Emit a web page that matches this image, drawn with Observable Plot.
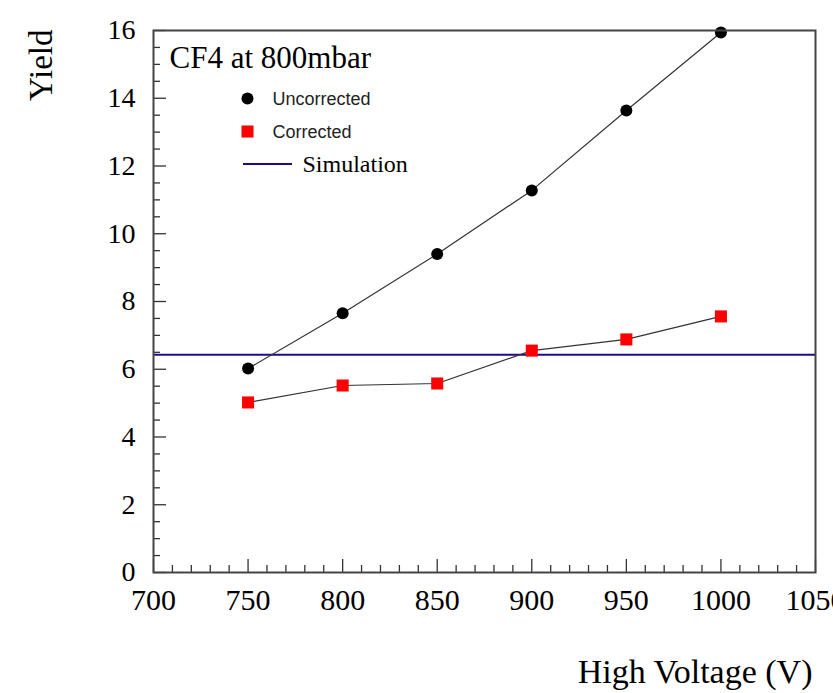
<!DOCTYPE html>
<html><head><meta charset="utf-8">
<script src="https://cdn.jsdelivr.net/npm/d3@7"></script>
<script src="https://cdn.jsdelivr.net/npm/@observablehq/plot@0.6"></script>
<style>
body{margin:0;background:#fff}
#chart svg{overflow:hidden}
</style>
</head><body><div id="chart"></div>
<script>
// ---- data ----
const voltages = [750, 800, 850, 900, 950, 1000];
const uncorrected = [6.02, 7.65, 9.40, 11.28, 13.64, 15.94];
const corrected = [5.02, 5.52, 5.58, 6.55, 6.88, 7.56];
const simulationYield = 6.43;
const xTicks = [700, 750, 800, 850, 900, 950, 1000, 1050];
const yTicks = [0, 2, 4, 6, 8, 10, 12, 14, 16];
const xMinorTicks = d3.range(700, 1051, 10).filter(v => v % 50 !== 0);
const yMinorTicks = d3.range(0, 16.01, 0.5).filter(v => v % 2 !== 0);
const seriesNames = ["Uncorrected", "Corrected", "Simulation"];
const title = "CF4 at 800mbar";
const xLabel = "High Voltage (V)";
const yLabel = "Yield";

const uncData = voltages.map((v, i) => ({v, y: uncorrected[i]}));
const corData = voltages.map((v, i) => ({v, y: corrected[i]}));

const W = 833, H = 693, mL = 153, mR = 18, mT = 30, mB = 121;
const fw = W - mL - mR, fh = H - mT - mB;
const serif = "Liberation Serif";
const sans = "Liberation Sans";
const simColor = "#200a8c";

const legendLine = (index, scales, values, dims) => {
  const l = d3.create("svg:line")
    .attr("x1", dims.marginLeft + 90).attr("x2", dims.marginLeft + 139)
    .attr("y1", dims.marginTop + 134).attr("y2", dims.marginTop + 134)
    .attr("stroke", simColor).attr("stroke-width", 2);
  return l.node();
};

const chart = Plot.plot({
  width: W, height: H,
  marginLeft: mL, marginRight: mR, marginTop: mT, marginBottom: mB,
  x: {domain: [700, 1050], axis: null},
  y: {domain: [0, 16], axis: null},
  style: {fontFamily: serif, background: "#fff"},
  marks: [
    // ticks
    Plot.ruleX(xTicks, {stroke: "#333", strokeWidth: 1.3, insetTop: fh - 13}),
    Plot.ruleX(xMinorTicks, {stroke: "#333", strokeWidth: 1.3, insetTop: fh - 7}),
    Plot.ruleY(yTicks, {stroke: "#333", strokeWidth: 1.3, insetRight: fw - 13}),
    Plot.ruleY(yMinorTicks, {stroke: "#333", strokeWidth: 1.3, insetRight: fw - 7}),
    Plot.text(xTicks, {x: d => d, text: d => String(d), frameAnchor: "bottom", lineAnchor: "top", dy: 16, fontSize: 30, fontFamily: serif, fill: "#000"}),
    Plot.text(yTicks, {y: d => d, text: d => String(d), frameAnchor: "left", textAnchor: "end", lineAnchor: "middle", dx: -18, fontSize: 28, fontFamily: serif, fill: "#000"}),
    // simulation
    Plot.ruleY([simulationYield], {stroke: simColor, strokeWidth: 2}),
    // series
    Plot.line(uncData, {x: "v", y: "y", stroke: "#333", strokeWidth: 1.2}),
    Plot.line(corData, {x: "v", y: "y", stroke: "#333", strokeWidth: 1.2}),
    Plot.dot(uncData, {x: "v", y: "y", r: 6, fill: "#000"}),
    Plot.dot(corData, {x: "v", y: "y", r: 6.8, symbol: "square", fill: "#ff0000"}),
    Plot.frame({stroke: "#444", strokeWidth: 2}),
    // labels
    Plot.text([yLabel], {frameAnchor: "top-left", text: d => d, rotate: -90, textAnchor: "end", lineAnchor: "middle", dx: -112, dy: -1, fontSize: 33, fontFamily: serif, fill: "#000"}),
    Plot.text([xLabel], {frameAnchor: "bottom-right", text: d => d, textAnchor: "end", lineAnchor: "middle", dx: -3, dy: 100, fontSize: 34, fontFamily: serif, fill: "#000"}),
    Plot.text([title], {frameAnchor: "top-left", text: d => d, textAnchor: "start", lineAnchor: "middle", dx: 16, dy: 28, fontSize: 31, fontFamily: serif, fill: "#000"}),
    // legend
    Plot.dot([0], {frameAnchor: "top-left", dx: 94, dy: 68, r: 6, fill: "#000"}),
    Plot.text([seriesNames[0]], {frameAnchor: "top-left", text: d => d, textAnchor: "start", lineAnchor: "middle", dx: 119, dy: 69, fontSize: 18, fontFamily: sans, fill: "#222"}),
    Plot.dot([0], {frameAnchor: "top-left", dx: 94, dy: 101, r: 6.8, symbol: "square", fill: "#ff0000"}),
    Plot.text([seriesNames[1]], {frameAnchor: "top-left", text: d => d, textAnchor: "start", lineAnchor: "middle", dx: 119, dy: 102, fontSize: 18, fontFamily: sans, fill: "#222"}),
    legendLine,
    Plot.text([seriesNames[2]], {frameAnchor: "top-left", text: d => d, textAnchor: "start", lineAnchor: "middle", dx: 149, dy: 134, fontSize: 24, fontFamily: serif, fill: "#000"})
  ]
});
document.getElementById("chart").appendChild(chart);
</script>
</body></html>
